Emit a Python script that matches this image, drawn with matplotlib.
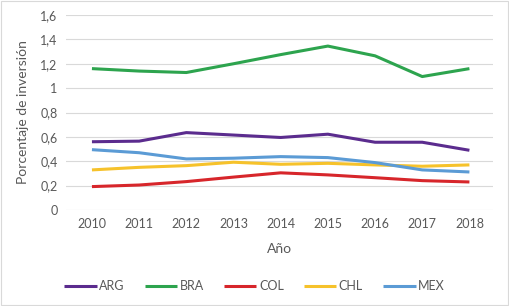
import matplotlib
matplotlib.use("Agg")
import matplotlib.pyplot as plt
from matplotlib.patches import Rectangle

years = [2010, 2011, 2012, 2013, 2014, 2015, 2016, 2017, 2018]
series_names = ["ARG", "BRA", "COL", "CHL", "MEX"]
arg = [0.56, 0.565, 0.635, 0.615, 0.595, 0.622, 0.556, 0.556, 0.49]
bra = [1.16, 1.14, 1.128, 1.20, 1.275, 1.345, 1.265, 1.095, 1.16]
col = [0.192, 0.205, 0.233, 0.27, 0.305, 0.288, 0.265, 0.241, 0.23]
chl = [0.329, 0.35, 0.364, 0.392, 0.375, 0.383, 0.37, 0.359, 0.37]
mex = [0.495, 0.47, 0.419, 0.425, 0.438, 0.43, 0.389, 0.329, 0.312]
yticks = [0, 0.2, 0.4, 0.6, 0.8, 1.0, 1.2, 1.4, 1.6]
ytick_labels = ["0", "0,2", "0,4", "0,6", "0,8", "1", "1,2", "1,4", "1,6"]
colors = ["#5B2C8E", "#2DA44E", "#D7262B", "#F6C22B", "#5B9BD5"]

plt.rcParams['font.family'] = ['Lato', 'DejaVu Sans']
txt = "#595959"

fig = plt.figure(figsize=(5.09, 3.06), dpi=100)
ax = fig.add_axes([66/509, 1-210/306, (493-66)/509, (210-15)/306])

for name, vals, c in zip(series_names, [arg, bra, col, chl, mex], colors):
    ax.plot(years, vals, color=c, lw=2.2, label=name, solid_capstyle='butt')

ax.set_xlim(2009.45, 2018.5)
ax.set_ylim(0, 1.6)
ax.set_xticks(years)
ax.set_xticklabels([str(y) for y in years], fontsize=9, color=txt)
ax.set_yticks(yticks)
ax.set_yticklabels(ytick_labels, fontsize=9, color=txt)
ax.tick_params(length=0, pad=6)
ax.grid(axis='y', color="#D9D9D9", lw=0.8)
ax.set_axisbelow(True)
for s in ax.spines.values():
    s.set_visible(False)

ax.set_ylabel("Porcentaje de inversión", fontsize=10, color=txt, labelpad=8)
ax.set_xlabel("Año", fontsize=10, color=txt, labelpad=9)

leg = fig.legend(loc='center', bbox_to_anchor=(0.5, 1-286/306), ncol=5, frameon=False,
                 fontsize=9, handlelength=2.6, columnspacing=1.6, handletextpad=0.2)
for t in leg.get_texts():
    t.set_color(txt)

fig.patches.append(Rectangle((0.001, 0.002), 0.997, 0.996, transform=fig.transFigure,
                             fill=False, edgecolor="#D9D9D9", lw=0.8))

fig.savefig("out.png", dpi=100)
